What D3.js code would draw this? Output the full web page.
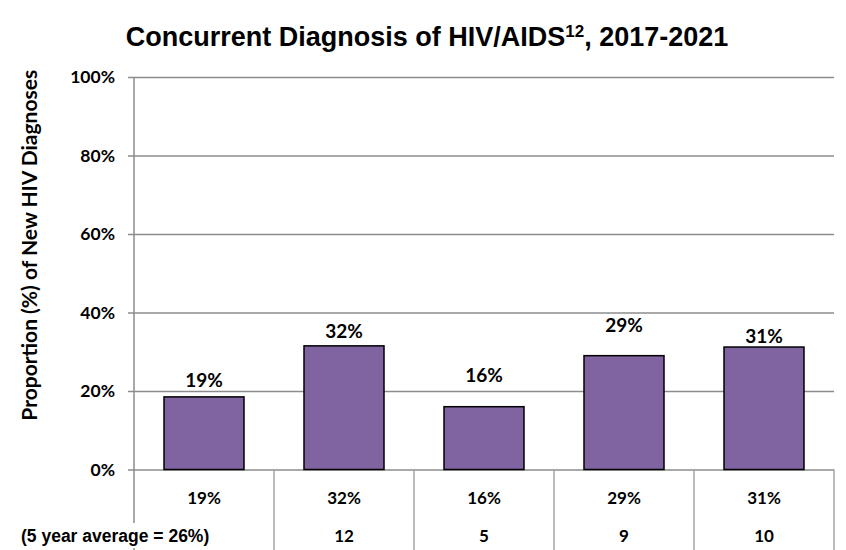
<!DOCTYPE html>
<html lang="en">
<head>
<meta charset="UTF-8">
<title>Concurrent Diagnosis of HIV/AIDS, 2017-2021</title>
<script src="https://d3js.org/d3.v7.min.js"></script>
<style>
    body { margin: 0; background: #fff; }
    .title { font-family: "Liberation Sans", Arial, sans-serif; font-weight: bold; font-size: 27px; }
    .lbl { font-family: Lato, "Open Sans", sans-serif; font-weight: bold; fill: #000; }
    .axis-title { font-size: 21px; }
    .tick-lbl { font-size: 17.5px; }
    .bar-lbl { font-size: 19px; }
    .cell { font-size: 17px; }
    .avg { font-family: "Liberation Sans", Arial, sans-serif; font-weight: bold; font-size: 17.5px; }
</style>
</head>
<body>
<div id="chart"></div>
<script>
    // data
    var years = ["2017", "2018", "2019", "2020", "2021"];
    var share = [0.185, 0.315, 0.16, 0.29, 0.312];       // bar heights
    var shareLabels = ["19%", "32%", "16%", "29%", "31%"];
    var counts = ["", "12", "5", "9", "10"];
    var yTicks = [0, 0.2, 0.4, 0.6, 0.8, 1];
    var avgText = "(5 year average = 26%)";

    // gap (px) between bar top and its label, the labels sit unevenly in the original
    var labelGap = [10, 8, 25, 24, 4];

    var W = 846, H = 550;
    var margin = { top: 77, right: 12, bottom: 80.5, left: 134 };

    var svg = d3.select("#chart").append("svg")
        .attr("width", W)
        .attr("height", H);

    var x = d3.scaleBand()
        .domain(years)
        .range([margin.left, W - margin.right])
        .paddingInner(60 / 140)
        .paddingOuter(30 / 140);

    var y = d3.scaleLinear()
        .domain([0, 1])
        .range([H - margin.bottom, margin.top]);

    // title with superscript
    var title = svg.append("text")
        .attr("class", "title")
        .attr("x", 427)
        .attr("y", 46)
        .attr("text-anchor", "middle");
    title.append("tspan").text("Concurrent Diagnosis of HIV/AIDS");
    title.append("tspan").attr("dy", -9).style("font-size", "17px").text("12");
    title.append("tspan").attr("dy", 9).text(", 2017-2021");

    // gridlines + left axis
    var yAxis = d3.axisLeft(y)
        .tickValues(yTicks)
        .tickSize(-(W - margin.right - margin.left) - 6)
        .tickPadding(12)
        .tickFormat(d3.format(".0%"));

    var gy = svg.append("g")
        .attr("transform", "translate(" + margin.left + ",0)")
        .call(yAxis);
    gy.select(".domain").remove();
    gy.selectAll(".tick line")
        .attr("x1", -6)
        .attr("x2", W - margin.right - margin.left)
        .attr("stroke", "#8c8c8c")
        .attr("stroke-width", 1.5);
    gy.selectAll(".tick text")
        .attr("class", "lbl tick-lbl")
        .attr("x", -19);

    // vertical axis line, runs down through the table
    svg.append("line")
        .attr("x1", margin.left).attr("x2", margin.left)
        .attr("y1", y(1)).attr("y2", H)
        .attr("stroke", "#8c8c8c")
        .attr("stroke-width", 1.5);

    // table column separators
    svg.selectAll(".sep")
        .data(years)
        .enter()
        .append("line")
        .attr("class", "sep")
        .attr("x1", function (d) { return x(d) + x.bandwidth() + x.step() * x.paddingInner() / 2; })
        .attr("x2", function (d) { return x(d) + x.bandwidth() + x.step() * x.paddingInner() / 2; })
        .attr("y1", y(0))
        .attr("y2", H)
        .attr("stroke", "#a6a6a6")
        .attr("stroke-width", 1.5);

    // bars
    svg.selectAll(".bar")
        .data(share)
        .enter()
        .append("rect")
        .attr("class", "bar")
        .attr("x", function (d, i) { return x(years[i]); })
        .attr("y", function (d) { return y(d); })
        .attr("width", x.bandwidth())
        .attr("height", function (d) { return y(0) - y(d); })
        .attr("fill", "#8064a2")
        .attr("stroke", "#000")
        .attr("stroke-width", 1.5);

    // bar labels
    svg.selectAll(".bar-lbl")
        .data(shareLabels)
        .enter()
        .append("text")
        .attr("class", "lbl bar-lbl")
        .attr("x", function (d, i) { return x(years[i]) + x.bandwidth() / 2; })
        .attr("y", function (d, i) { return y(share[i]) - labelGap[i]; })
        .attr("text-anchor", "middle")
        .text(function (d) { return d; });

    // table row 1: percentages
    svg.selectAll(".row1")
        .data(shareLabels)
        .enter()
        .append("text")
        .attr("class", "lbl cell")
        .attr("x", function (d, i) { return x(years[i]) + x.bandwidth() / 2; })
        .attr("y", 498)
        .attr("dy", "0.35em")
        .attr("text-anchor", "middle")
        .text(function (d) { return d; });

    // table row 2: counts
    svg.selectAll(".row2")
        .data(counts)
        .enter()
        .append("text")
        .attr("class", "lbl cell")
        .attr("x", function (d, i) { return x(years[i]) + x.bandwidth() / 2; })
        .attr("y", 536)
        .attr("dy", "0.35em")
        .attr("text-anchor", "middle")
        .text(function (d) { return d; });

    // average note, sits over the axis line with a white box behind it
    svg.append("rect")
        .attr("x", 8).attr("y", 523)
        .attr("width", 212).attr("height", 25)
        .attr("fill", "#fff");
    svg.append("text")
        .attr("class", "avg")
        .attr("x", 21)
        .attr("y", 536)
        .attr("dy", "0.35em")
        .text(avgText);

    // y axis title
    svg.append("text")
        .attr("class", "lbl axis-title")
        .attr("transform", "translate(37," + ((y(0) + y(1)) / 2 - 28) + ") rotate(-90)")
        .attr("text-anchor", "middle")
        .text("Proportion (%) of New HIV Diagnoses");
</script>
</body>
</html>
